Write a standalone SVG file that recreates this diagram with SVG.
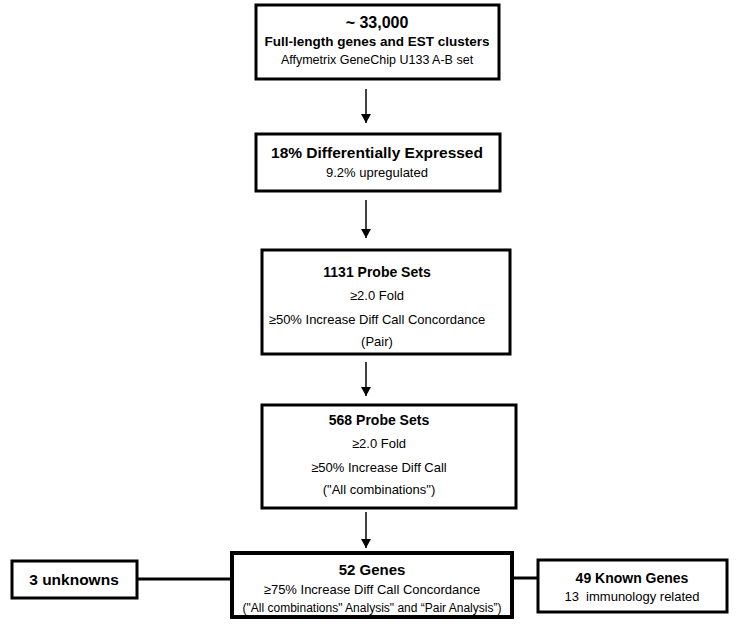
<svg xmlns="http://www.w3.org/2000/svg" width="748" height="626" viewBox="0 0 748 626">
<defs>
<marker id="ah" markerWidth="9" markerHeight="10" refX="9" refY="5" orient="auto" markerUnits="userSpaceOnUse">
<path d="M0,0 L9,5 L0,10 Z" fill="#000"/>
</marker>
<style>
.box{fill:#fff;stroke:#000;stroke-width:3}
.thick{stroke-width:4}
.t{font-family:"Liberation Sans",Arial,sans-serif;font-size:14px;font-weight:bold;fill:#000;text-anchor:middle}
.s{font-family:"Liberation Sans",Arial,sans-serif;font-size:13px;fill:#000;text-anchor:middle;white-space:pre}
.arr{stroke:#000;stroke-width:1.5;fill:none;marker-end:url(#ah)}
.con{stroke:#000;stroke-width:3;fill:none}
</style>
</defs>
<rect width="748" height="626" fill="#fff"/>
<g id="connectors">
<line class="arr" x1="366" y1="89" x2="366" y2="123"/>
<line class="arr" x1="366" y1="200" x2="366" y2="238"/>
<line class="arr" x1="366" y1="362" x2="366" y2="396"/>
<line class="arr" x1="366" y1="512" x2="366" y2="548"/>
<line class="con" x1="137" y1="579" x2="232" y2="579"/>
<line class="con" x1="512" y1="578" x2="538" y2="578"/>
</g>
<g id="n1">
<rect class="box" x="256" y="5" width="243" height="74"/>
<text class="t" x="377" y="28" style="font-size:16px">~ 33,000</text>
<text class="t" x="377" y="46" style="font-size:13.5px">Full-length genes and EST clusters</text>
<text class="s" x="377" y="64" style="font-size:12.5px">Affymetrix GeneChip U133 A-B set</text>
</g>
<g id="n2">
<rect class="box" x="256" y="134" width="244" height="57"/>
<text class="t" x="377" y="158" style="font-size:15.5px">18% Differentially Expressed</text>
<text class="s" x="377" y="177">9.2% upregulated</text>
</g>
<g id="n3">
<rect class="box" x="262" y="250" width="248" height="104"/>
<text class="t" x="377" y="277">1131 Probe Sets</text>
<text class="s" x="377" y="300">≥2.0 Fold</text>
<text class="s" x="377" y="324">≥50% Increase Diff Call Concordance</text>
<text class="s" x="377" y="346">(Pair)</text>
</g>
<g id="n4">
<rect class="box" x="262" y="405" width="254" height="103"/>
<text class="t" x="379" y="425">568 Probe Sets</text>
<text class="s" x="379" y="448">≥2.0 Fold</text>
<text class="s" x="379" y="472">≥50% Increase Diff Call</text>
<text class="s" x="379" y="494">("All combinations")</text>
</g>
<g id="n5">
<rect class="box thick" x="232" y="553" width="280" height="64"/>
<text class="t" x="372" y="575" style="font-size:15px">52 Genes</text>
<text class="s" x="372" y="594">≥75% Increase Diff Call Concordance</text>
<text class="s" x="372" y="612" style="font-size:12px">("All combinations" Analysis" and “Pair Analysis”)</text>
</g>
<g id="n6">
<rect class="box" x="12" y="561" width="125" height="37"/>
<text class="t" x="74" y="585" style="font-size:15.5px">3 unknowns</text>
</g>
<g id="n7">
<rect class="box" x="538" y="560" width="189" height="52"/>
<text class="t" x="632" y="583">49 Known Genes</text>
<text class="s" x="632" y="601">13  immunology related</text>
</g>
</svg>
